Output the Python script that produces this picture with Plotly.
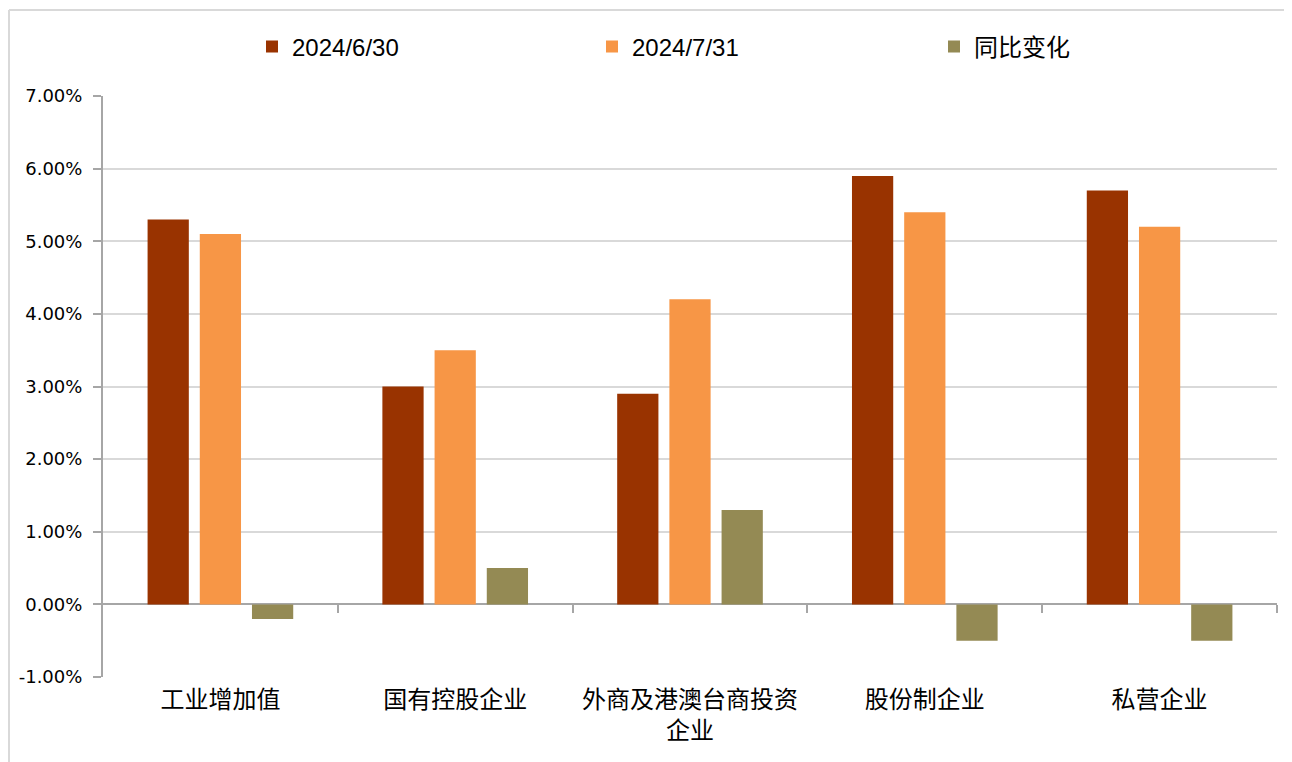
import plotly.graph_objects as go

categories = ["工业增加值", "国有控股企业", "外商及港澳台商投资<br>企业", "股份制企业", "私营企业"]
series_names = ["2024/6/30", "2024/7/31", "同比变化"]
v_jun = [5.3, 3.0, 2.9, 5.9, 5.7]
v_jul = [5.1, 3.5, 4.2, 5.4, 5.2]
v_chg = [-0.2, 0.5, 1.3, -0.5, -0.5]
colors = ["#993300", "#F79646", "#948A54"]
y_ticks = [-1, 0, 1, 2, 3, 4, 5, 6, 7]

OFF = 8  # page body margin
W, H = 1292 - OFF, 762 - OFF
# plot area in reference-picture pixels
L, R, T, B = 103, 1277, 96, 677
ml, mt = L - OFF, T - OFF
mr, mb = W - (R - OFF), H - (B - OFF)
PW, PH = W - ml - mr, H - mt - mb


def px_x(p):
    return (p - OFF - ml) / PW


def px_y(q):
    return (H - mb - (q - OFF)) / PH


fig = go.Figure()
legend_ids = ["legend", "legend2", "legend3"]
for name, vals, c, lg in zip(series_names, [v_jun, v_jul, v_chg], colors, legend_ids):
    fig.add_trace(go.Bar(x=list(range(len(categories))), y=vals, name=name, legend=lg,
                         marker=dict(color=c, line=dict(width=0))))

# invisible trace to anchor the zero-line tick axis
fig.add_trace(go.Scatter(x=[0], y=[0], xaxis="x2", yaxis="y", mode="markers",
                         marker=dict(opacity=0), showlegend=False, hoverinfo="skip"))

leg_font = dict(size=24, family="Liberation Sans, Noto Sans CJK SC", color="#000000")
leg_common = dict(orientation="h", yanchor="middle", xanchor="left", font=leg_font,
                  itemwidth=30, bgcolor="rgba(0,0,0,0)")

fig.update_layout(
    width=W, height=H,
    margin=dict(l=ml, r=mr, t=mt, b=mb, autoexpand=False),
    paper_bgcolor="white", plot_bgcolor="white",
    barmode="group", bargap=0.333, bargroupgap=0.21,
    font=dict(family="Liberation Sans, Arial", color="#000000"),
    legend=dict(x=px_x(252), y=px_y(47), **leg_common),
    legend2=dict(x=px_x(592), y=px_y(47), **leg_common),
    legend3=dict(x=px_x(934), y=px_y(47), **leg_common),
    xaxis=dict(range=[-0.5, 4.5], tickvals=list(range(len(categories))), ticktext=categories,
               showgrid=False, showline=False, ticks="", zeroline=False,
               ticklabelstandoff=6,
               tickfont=dict(size=24, family="Noto Sans CJK SC", color="#000000")),
    xaxis2=dict(range=[-0.5, 4.5], overlaying="x", anchor="free",
                position=1 / 8, showticklabels=False, showgrid=False, showline=False,
                ticks="outside", ticklen=8, tickwidth=1.5, tickcolor="#A6A6A6",
                tickvals=[0.5, 1.5, 2.5, 3.5, 4.5], zeroline=False),
    yaxis=dict(range=[-1, 7], tickvals=y_ticks,
               ticktext=[f"{v:.2f}%" for v in y_ticks],
               showgrid=True, gridcolor="#D9D9D9", gridwidth=1.5,
               zeroline=True, zerolinecolor="#A6A6A6", zerolinewidth=2,
               showline=True, linecolor="#A6A6A6", linewidth=2,
               ticks="outside", ticklen=8, tickcolor="#A6A6A6", tickwidth=1.5,
               tickfont=dict(size=18, family="DejaVu Sans", color="#000000"),
               ticklabelstandoff=7),
)

# outer frame of the picture (left and top edges)
fig.add_shape(type="line", xref="paper", yref="paper",
              x0=px_x(9), x1=px_x(9), y0=px_y(762), y1=px_y(10),
              line=dict(color="#D9D9D9", width=2), layer="below")
fig.add_shape(type="line", xref="paper", yref="paper",
              x0=px_x(9), x1=px_x(1292), y0=px_y(10), y1=px_y(10),
              line=dict(color="#D9D9D9", width=2), layer="below")

fig.write_html("out.html")
